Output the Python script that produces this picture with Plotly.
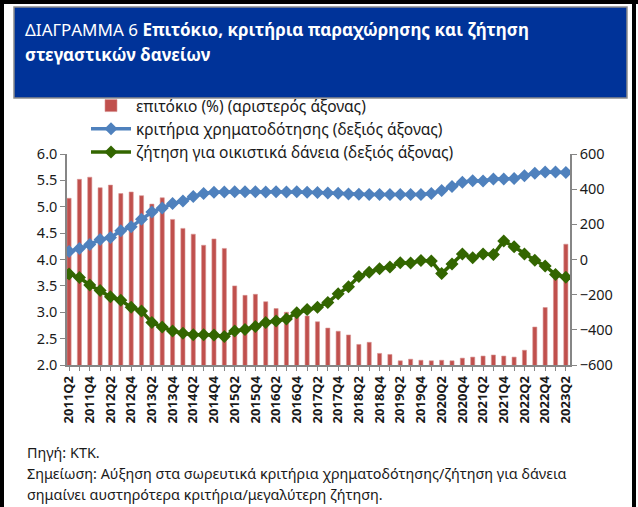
import plotly.graph_objects as go

# ---------------- data ----------------
quarters = [
    "2011Q2", "2011Q3", "2011Q4", "2012Q1", "2012Q2", "2012Q3", "2012Q4",
    "2013Q1", "2013Q2", "2013Q3", "2013Q4", "2014Q1", "2014Q2", "2014Q3",
    "2014Q4", "2015Q1", "2015Q2", "2015Q3", "2015Q4", "2016Q1", "2016Q2",
    "2016Q3", "2016Q4", "2017Q1", "2017Q2", "2017Q3", "2017Q4", "2018Q1",
    "2018Q2", "2018Q3", "2018Q4", "2019Q1", "2019Q2", "2019Q3", "2019Q4",
    "2020Q1", "2020Q2", "2020Q3", "2020Q4", "2021Q1", "2021Q2", "2021Q3",
    "2021Q4", "2022Q1", "2022Q2", "2022Q3", "2022Q4", "2023Q1", "2023Q2",
]

tick_labels = [
    "2011Q2", "2011Q4", "2012Q2", "2012Q4", "2013Q2", "2013Q4", "2014Q2",
    "2014Q4", "2015Q2", "2015Q4", "2016Q2", "2016Q4", "2017Q2", "2017Q4",
    "2018Q2", "2018Q4", "2019Q2", "2019Q4", "2020Q2", "2020Q4", "2021Q2",
    "2021Q4", "2022Q2", "2022Q4", "2023Q2",
]

interest_rate = [
    5.16, 5.52, 5.56, 5.36, 5.41, 5.25, 5.28, 5.21, 5.05, 5.17,
    4.76, 4.59, 4.48, 4.27, 4.39, 4.21, 3.50, 3.32, 3.34, 3.20,
    3.07, 3.00, 2.95, 2.93, 2.82, 2.70, 2.64, 2.57, 2.39, 2.43,
    2.22, 2.20, 2.08, 2.11, 2.09, 2.08, 2.09, 2.08, 2.13, 2.15,
    2.17, 2.19, 2.17, 2.15, 2.28, 2.72, 3.09, 3.70, 4.29,
]

credit_criteria = [
    46, 62, 85, 114, 125, 163, 186, 229, 270, 293,
    318, 332, 358, 375, 383, 384, 385, 385, 385, 384,
    385, 384, 385, 383, 381, 378, 377, 372, 371, 370,
    370, 370, 370, 369, 370, 375, 392, 415, 440, 448,
    447, 458, 458, 460, 477, 490, 497, 497, 495,
]

housing_demand = [
    -82, -103, -145, -177, -212, -232, -272, -293, -358, -384,
    -406, -420, -428, -428, -430, -438, -406, -398, -381, -358,
    -350, -339, -303, -285, -272, -245, -195, -155, -97, -72,
    -53, -42, -18, -20, -6, -8, -80, -25, 31, 10,
    31, 28, 105, 72, 31, -4, -37, -86, -101,
]

series_names = [
    "επιτόκιο (%) (αριστερός άξονας)",
    "κριτήρια χρηματοδότησης (δεξιός άξονας)",
    "ζήτηση για οικιστικά δάνεια (δεξιός άξονας)",
]

title_line1 = "ΔΙΑΓΡΑΜΜΑ 6 <b>Επιτόκιο, κριτήρια παραχώρησης και ζήτηση</b>"
title_line2 = "<b>στεγαστικών δανείων</b>"
footer_lines = [
    "Πηγή: ΚΤΚ.",
    "Σημείωση: Αύξηση στα σωρευτικά κριτήρια χρηματοδότησης/ζήτηση για δάνεια",
    "σημαίνει αυστηρότερα κριτήρια/μεγαλύτερη ζήτηση.",
]

# ---------------- layout geometry ----------------
W, H = 638, 507
L, R, T, B = 67, 68, 154, 142
PW = W - L - R
PH = H - T - B
FONT = "Noto Sans"


def px(x):
    return (x - L) / PW


def py(y):
    return (H - B - y) / PH


red = "#C0504D"
blue = "#4F81BD"
green = "#336600"
axis_col = "#868686"

fig = go.Figure()

fig.add_trace(go.Bar(
    x=quarters, y=interest_rate, name=series_names[0],
    marker=dict(color=red, line=dict(color="#D99694", width=0.6)),
    yaxis="y", legendgroup="a",
))
fig.add_trace(go.Scatter(
    x=quarters, y=credit_criteria, name=series_names[1], mode="lines+markers",
    line=dict(color=blue, width=3.5),
    marker=dict(symbol="diamond", size=10, color=blue),
    yaxis="y2", legendgroup="b",
))
fig.add_trace(go.Scatter(
    x=quarters, y=housing_demand, name=series_names[2], mode="lines+markers",
    line=dict(color=green, width=3.5),
    marker=dict(symbol="diamond", size=10, color=green),
    yaxis="y2", legendgroup="c",
))

ticktext = [q if q in tick_labels else "" for q in quarters]

shapes = [
    # title box
    dict(type="rect", xref="paper", yref="paper",
         x0=px(14), x1=px(627), y0=py(98), y1=py(7),
         fillcolor="#003399", line=dict(color="#8C8C8C", width=1.5), layer="above"),
    # outer frame
    dict(type="line", xref="paper", yref="paper",
         x0=px(2), x1=px(2), y0=py(0), y1=py(H + 5),
         line=dict(color="black", width=4)),
    dict(type="line", xref="paper", yref="paper",
         x0=px(0), x1=px(W), y0=py(2), y1=py(2),
         line=dict(color="black", width=4)),
    dict(type="line", xref="paper", yref="paper",
         x0=px(634), x1=px(634), y0=py(0), y1=py(H + 5),
         line=dict(color="black", width=4)),
]

annotations = [
    dict(text=title_line1, x=px(23), y=py(30), xref="paper", yref="paper",
         xanchor="left", yanchor="middle", showarrow=False,
         font=dict(family=FONT, size=17, color="white")),
    dict(text=title_line2, x=px(23), y=py(54), xref="paper", yref="paper",
         xanchor="left", yanchor="middle", showarrow=False,
         font=dict(family=FONT, size=17, color="white")),
]
for line, yy in zip(footer_lines, [452, 473, 494]):
    annotations.append(dict(
        text=line, x=px(25), y=py(yy), xref="paper", yref="paper",
        xanchor="left", yanchor="middle", showarrow=False,
        font=dict(family=FONT, size=14.4, color="#1a1a1a")))

fig.update_layout(
    width=W, height=H,
    margin=dict(l=L, r=R, t=T, b=B, pad=0),
    paper_bgcolor="white", plot_bgcolor="white",
    font=dict(family=FONT, size=13, color="#1a1a1a"),
    bargap=0.6,
    showlegend=True,
    legend=dict(
        x=px(86), y=py(89), xanchor="left", yanchor="top",
        bgcolor="rgba(0,0,0,0)", font=dict(family=FONT, size=15.5, color="#1a1a1a"),
        itemwidth=40, tracegroupgap=5, traceorder="normal",
    ),
    xaxis=dict(
        type="category", range=[-0.2, 48.4],
        tickmode="array", tickvals=quarters, ticktext=ticktext,
        tickangle=-90, ticks="outside", ticklen=4, tickcolor=axis_col,
        showline=True, linecolor=axis_col, linewidth=1.5,
        showgrid=False, zeroline=False,
        tickfont=dict(family=FONT, size=13, color="#1a1a1a", weight="bold"),
    ),
    yaxis=dict(
        range=[2, 6], dtick=0.5, tick0=2, tickformat=".1f",
        ticks="outside", ticklen=5, tickcolor=axis_col,
        showline=True, linecolor=axis_col, linewidth=1.5,
        showgrid=False, zeroline=False,
        tickfont=dict(family=FONT, size=14.5, color="#1a1a1a"),
    ),
    yaxis2=dict(
        range=[-600, 600], dtick=200, tick0=-600, overlaying="y", side="right",
        ticks="outside", ticklen=5, tickcolor=axis_col,
        showline=True, linecolor=axis_col, linewidth=1.5,
        showgrid=False, zeroline=False,
        tickfont=dict(family=FONT, size=14.5, color="#1a1a1a"),
    ),
    shapes=shapes,
    annotations=annotations,
)

fig.write_html(
    "out.html",
    config={"displayModeBar": False},
    post_script="document.body.style.margin='0';document.body.style.overflow='hidden';",
)
